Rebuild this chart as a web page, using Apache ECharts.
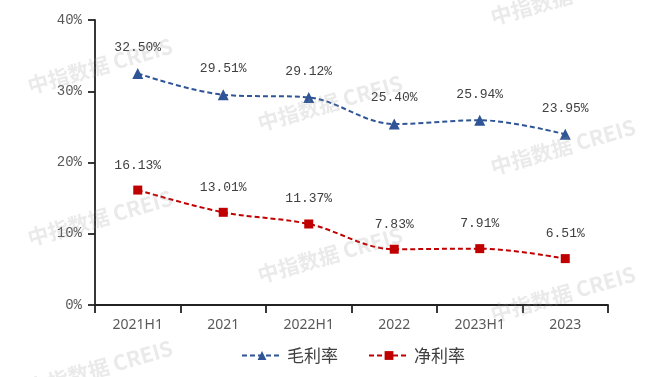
<!DOCTYPE html>
<html>
<head>
<meta charset="utf-8">
<script src="https://cdn.jsdelivr.net/npm/echarts@6/dist/echarts.min.js"></script>
<style>
  html, body { margin: 0; padding: 0; background: #fff; }
  #chart { width: 667px; height: 377px; }
</style>
</head>
<body>
<div id="chart"></div>
<script>
// 期间
const periods = ['2021H1', '2021', '2022H1', '2022', '2023H1', '2023'];
// 毛利率 (%)
const grossMargin = [32.50, 29.51, 29.12, 25.40, 25.94, 23.95];
// 净利率 (%)
const netMargin = [16.13, 13.01, 11.37, 7.83, 7.91, 6.51];
const seriesNames = ['毛利率', '净利率'];

// 水印位置
const marks = [
  [100, 66], [100, 218], [100, 368],
  [330, 103], [330, 255], [330, 405],
  [563, -3], [563, 147], [563, 294],
];

const chart = echarts.init(document.getElementById('chart'));

const labelStyle = {
  show: true,
  position: 'top',
  distance: 14,
  fontFamily: '"Liberation Mono", "DejaVu Sans Mono", monospace',
  fontSize: 13,
  color: '#404040',
  formatter: p => `${p.value.toFixed(2)}%`,
};

const option = {
  animation: false,
  backgroundColor: '#fff',
  grid: { left: 95, right: 59, top: 20, bottom: 72 },
  legend: {
    data: seriesNames,
    bottom: 8,
    left: 236,
    itemWidth: 40,
    itemHeight: 11,
    itemGap: 30,
    textStyle: {
      fontFamily: '"Noto Sans CJK SC", sans-serif',
      fontSize: 17,
      color: '#404040',
    },
  },
  xAxis: {
    type: 'category',
    data: periods,
    boundaryGap: true,
    axisLine: { lineStyle: { color: '#222', width: 1.8 } },
    axisTick: { show: true, inside: false, length: 8, lineStyle: { color: '#222', width: 1.8 } },
    axisLabel: {
      margin: 13,
      fontFamily: '"Noto Sans", sans-serif',
      fontSize: 14,
      color: '#595959',
    },
  },
  yAxis: {
    type: 'value',
    min: 0,
    max: 40,
    interval: 10,
    splitLine: { show: false },
    axisLine: { show: true, lineStyle: { color: '#222', width: 1.8 } },
    axisTick: { show: true, inside: false, length: 7, lineStyle: { color: '#222', width: 1.8 } },
    axisLabel: {
      margin: 13,
      formatter: '{value}%',
      fontFamily: '"Liberation Mono", "DejaVu Sans Mono", monospace',
      fontSize: 14,
      color: '#595959',
    },
  },
  series: [
    {
      name: seriesNames[0],
      type: 'line',
      data: grossMargin,
      smooth: 0.35,
      symbol: 'triangle',
      symbolSize: 11,
      color: '#2F5597',
      lineStyle: { type: [5, 3], width: 2, color: '#2F5597' },
      itemStyle: { color: '#2F5597' },
      label: labelStyle,
    },
    {
      name: seriesNames[1],
      type: 'line',
      data: netMargin,
      smooth: 0.35,
      symbol: 'rect',
      symbolSize: 9,
      color: '#C00000',
      lineStyle: { type: [5, 3], width: 2, color: '#C00000' },
      itemStyle: { color: '#C00000' },
      label: labelStyle,
    },
  ],
  graphic: marks.map(([x, y]) => ({
    type: 'text',
    x,
    y,
    rotation: 0.28,
    silent: true,
    z: 100,
    style: {
      text: '中指数据 CREIS',
      align: 'center',
      verticalAlign: 'middle',
      fontFamily: '"Noto Sans CJK SC", sans-serif',
      fontWeight: 'bold',
      fontSize: 21,
      fill: 'rgba(150,150,150,0.2)',
    },
  })),
};

chart.setOption(option);
</script>
</body>
</html>
